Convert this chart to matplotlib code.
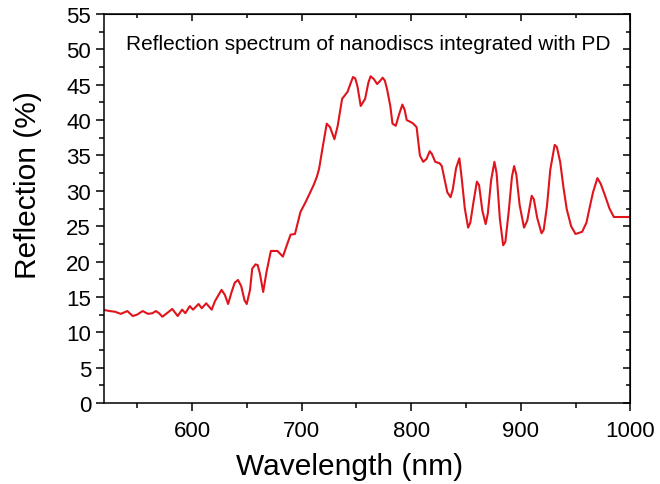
import numpy as np
import matplotlib
matplotlib.use("Agg")
import matplotlib.pyplot as plt
from matplotlib.ticker import MultipleLocator

plt.rcParams['font.family'] = ['Liberation Sans', 'DejaVu Sans']

wavelength = [520, 525, 530, 535, 541, 546, 550, 555, 560, 564, 567, 570, 573, 578, 582,
              587, 591, 594, 598, 601, 606, 609, 613, 618, 621, 624, 627, 630, 633, 636,
              639, 642, 645, 648, 650, 653, 655, 658, 660, 662, 665, 668, 672, 678, 683,
              687, 690, 694, 699, 704, 708, 711, 714, 716, 719, 723, 726, 730, 733, 737,
              742, 745, 747, 749, 751, 754, 758, 761, 763, 766, 769, 772, 774, 776, 778,
              781, 783, 786, 789, 792, 794, 796, 800, 802, 805, 808, 811, 814, 817, 819,
              822, 826, 828, 830, 833, 836, 838, 841, 844, 846, 849, 852, 854, 857, 860,
              862, 865, 868, 870, 873, 876, 878, 881, 884, 886, 889, 892, 894, 896, 899,
              903, 906, 910, 912, 915, 919, 921, 924, 927, 931, 933, 936, 939, 942, 946,
              950, 956, 960, 963, 966, 970, 973, 977, 981, 985, 990, 1000]
reflection = [13.15, 13.0, 12.9, 12.6, 13.0, 12.3, 12.5, 13.0, 12.6, 12.7, 13.0, 12.7, 12.2, 12.8, 13.3,
              12.3, 13.2, 12.7, 13.7, 13.2, 14.0, 13.4, 14.1, 13.2, 14.4, 15.2, 16.0, 15.3, 14.0, 15.6,
              17.0, 17.4, 16.5, 14.5, 14.0, 16.0, 19.0, 19.6, 19.5, 18.3, 15.7, 18.5, 21.5, 21.5, 20.7,
              22.5, 23.8, 23.9, 27.0, 28.5, 29.8, 30.8, 32.0, 33.1, 35.9, 39.5, 39.0, 37.3, 39.2, 43.0,
              44.0, 45.3, 46.1, 45.9, 44.8, 42.0, 43.0, 45.3, 46.2, 45.8, 45.1, 45.6, 46.0, 45.6, 44.4,
              42.0, 39.5, 39.2, 40.8, 42.2, 41.5, 40.0, 39.7, 39.5, 39.0, 35.0, 34.1, 34.5, 35.6, 35.2,
              34.1, 33.9, 33.5, 32.0, 29.8, 29.1, 30.2, 33.2, 34.6, 32.0, 27.5, 24.8, 25.5, 28.5, 31.3,
              30.8, 27.2, 25.3, 26.8, 31.5, 34.1, 32.5, 26.0, 22.3, 22.8, 27.0, 32.0, 33.5, 32.3, 28.0,
              24.8, 25.8, 29.3, 28.8, 26.2, 24.0, 24.5, 27.9, 33.0, 36.5, 36.2, 34.1, 30.5, 27.4, 25.0,
              23.9, 24.2, 25.5, 27.7, 29.8, 31.8, 31.0, 29.3, 27.5, 26.3, 26.3, 26.3]

fig = plt.figure(figsize=(6.6, 4.85), dpi=100)
ax = fig.add_axes([0.158, 0.167, 0.797, 0.802])

ax.plot(wavelength, reflection, color='#e0141c', lw=1.5)

ax.set_xlim(520, 1000)
ax.set_ylim(0, 55)
ax.xaxis.set_major_locator(MultipleLocator(100))
ax.xaxis.set_minor_locator(MultipleLocator(50))
ax.yaxis.set_major_locator(MultipleLocator(5))
ax.yaxis.set_minor_locator(MultipleLocator(2.5))

ax.tick_params(which='both', direction='out', top=False, right=False, labelsize=16, width=1.1)
ax.tick_params(which='major', length=5.5)
ax.tick_params(axis='x', which='major', pad=7)
ax.tick_params(axis='y', which='major', pad=4)
ax.tick_params(which='minor', length=3.5)

# Origin style: mirrored ticks pointing in on top and right
sec_x = ax.secondary_xaxis('top')
sec_x.xaxis.set_major_locator(MultipleLocator(100))
sec_x.xaxis.set_minor_locator(MultipleLocator(50))
sec_x.tick_params(which='both', direction='in', labeltop=False, width=1.1)
sec_x.tick_params(which='major', length=5)
sec_x.tick_params(which='minor', length=3)
sec_y = ax.secondary_yaxis('right')
sec_y.yaxis.set_major_locator(MultipleLocator(5))
sec_y.yaxis.set_minor_locator(MultipleLocator(2.5))
sec_y.tick_params(which='both', direction='in', labelright=False, width=1.1)
sec_y.tick_params(which='major', length=5)
sec_y.tick_params(which='minor', length=3)

for s in ax.spines.values():
    s.set_linewidth(1.1)

ax.set_xlabel('Wavelength (nm)', fontsize=21.5)
ax.set_ylabel('Reflection (%)', fontsize=21.5)
ax.xaxis.set_label_coords(0.466, -0.127)
ax.yaxis.set_label_coords(-0.118, 0.563)
ax.text(0.502, 0.923, 'Reflection spectrum of nanodiscs integrated with PD',
        transform=ax.transAxes, ha='center', va='center', fontsize=15)

fig.savefig('out.png', dpi=100)
